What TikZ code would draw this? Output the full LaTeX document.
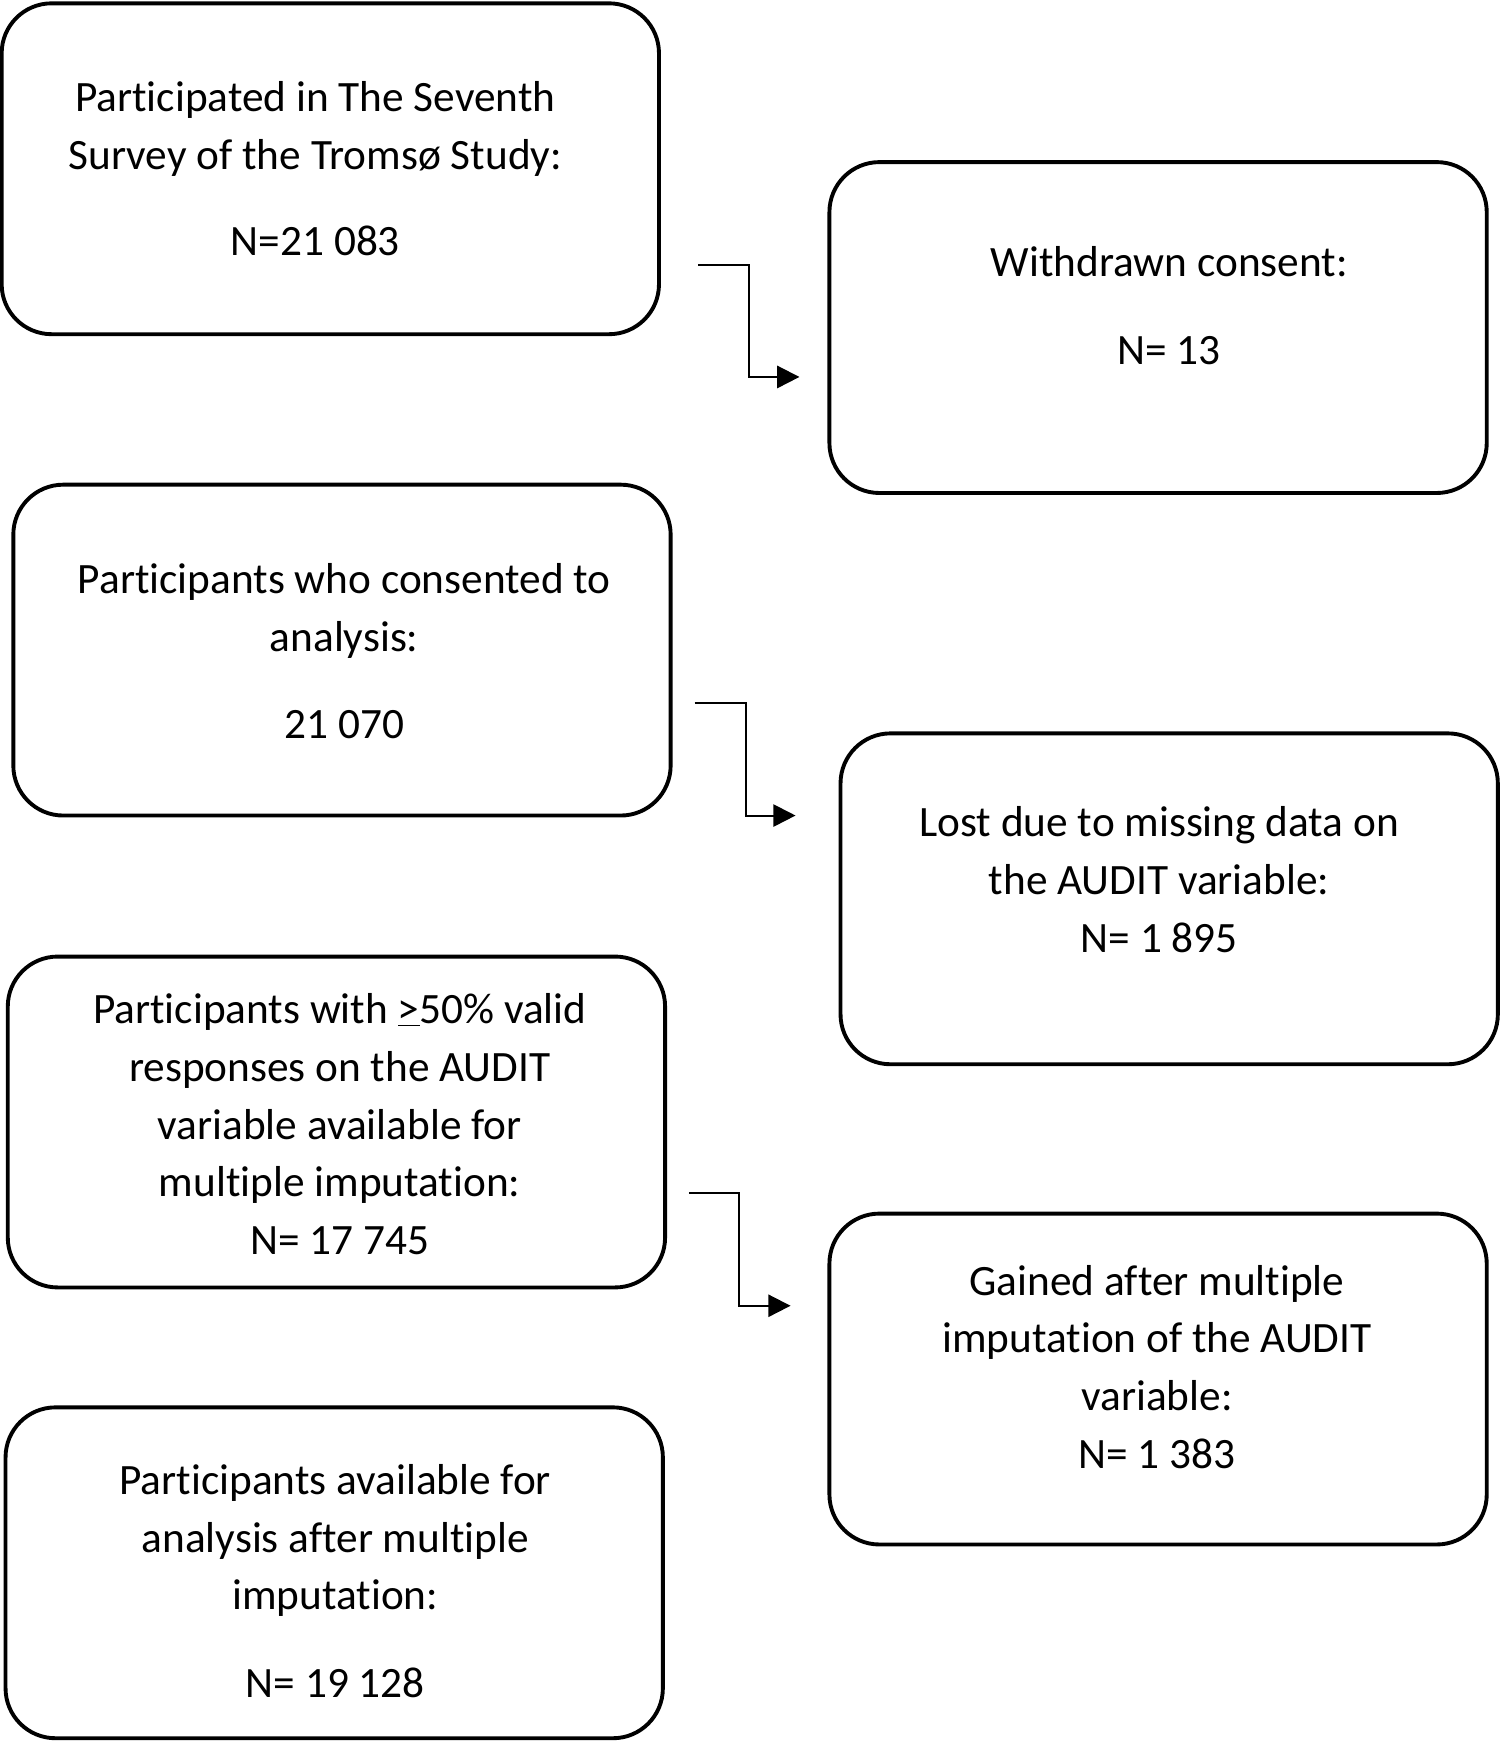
\documentclass[tikz,border=0pt]{standalone}
\usepackage{fontspec}
\setmainfont{Carlito}[Ligatures=NoCommon]
\usetikzlibrary{arrows.meta}
\begin{document}
\begin{tikzpicture}[x=1pt,y=-1pt,
  box/.style={draw=black, line width=3.5pt, rounded corners=45pt, minimum width=592pt, minimum height=298pt, inner sep=0pt},
  txt/.style={align=center, inner sep=0pt, font=\fontsize{39}{52}\selectfont},
  conn/.style={draw=black, line width=1.8pt, -{Triangle[length=20pt,width=20pt]}}]
\fill[white] (0,0) rectangle (1351,1568);
\useasboundingbox (0,0) rectangle (1351,1568);
% boxes
\node[box] (b1) at (297.5,152) {};
\node[box] (b2) at (1043,295) {};
\node[box] (b3) at (308,585.5) {};
\node[box] (b4) at (1053,809.5) {};
\node[box] (b5) at (303,1010.5) {};
\node[box] (b6) at (1043,1242) {};
\node[box] (b7) at (301,1416.5) {};
% texts
\node[txt] (t1) at (284,155) {\strut Participated in The Seventh\\Survey of the Tromsø Study:\\[26pt]N=21 083\strut};
\node[txt] (t2) at (1053,278.5) {\strut Withdrawn consent:\\[27pt]N= 13\strut};
\node[txt] (t3) at (310,589.5) {\strut Participants who consented to\\analysis:\\[27pt]21 070\strut};
\node[txt] (t4) at (1044,795) {\strut Lost due to missing data on\\the AUDIT variable:\\N= 1 895\strut};
\node[txt] (t5) at (306,1015.5) {\strut Participants with \underline{>}50\% valid\\responses on the AUDIT\\variable available for\\multiple imputation:\\N= 17 745\strut};
\node[txt] (t6) at (1042,1234) {\strut Gained after multiple\\imputation of the AUDIT\\variable:\\N= 1 383\strut};
\node[txt] (t7) at (302,1427) {\strut Participants available for\\analysis after multiple\\imputation:\\[27pt]N= 19 128\strut};
% connectors
\coordinate (s1) at (629,238.5);
\coordinate (e1) at (720,339.5);
\coordinate (s2) at (625.5,633);
\coordinate (e2) at (716.5,734.5);
\coordinate (s3) at (620.5,1074.6);
\coordinate (e3) at (712,1176);
\draw[conn] (s1) -- ++(46,0) |- (e1);
\draw[conn] (s2) -- ++(46,0) |- (e2);
\draw[conn] (s3) -- ++(45.5,0) |- (e3);
\end{tikzpicture}
\end{document}
